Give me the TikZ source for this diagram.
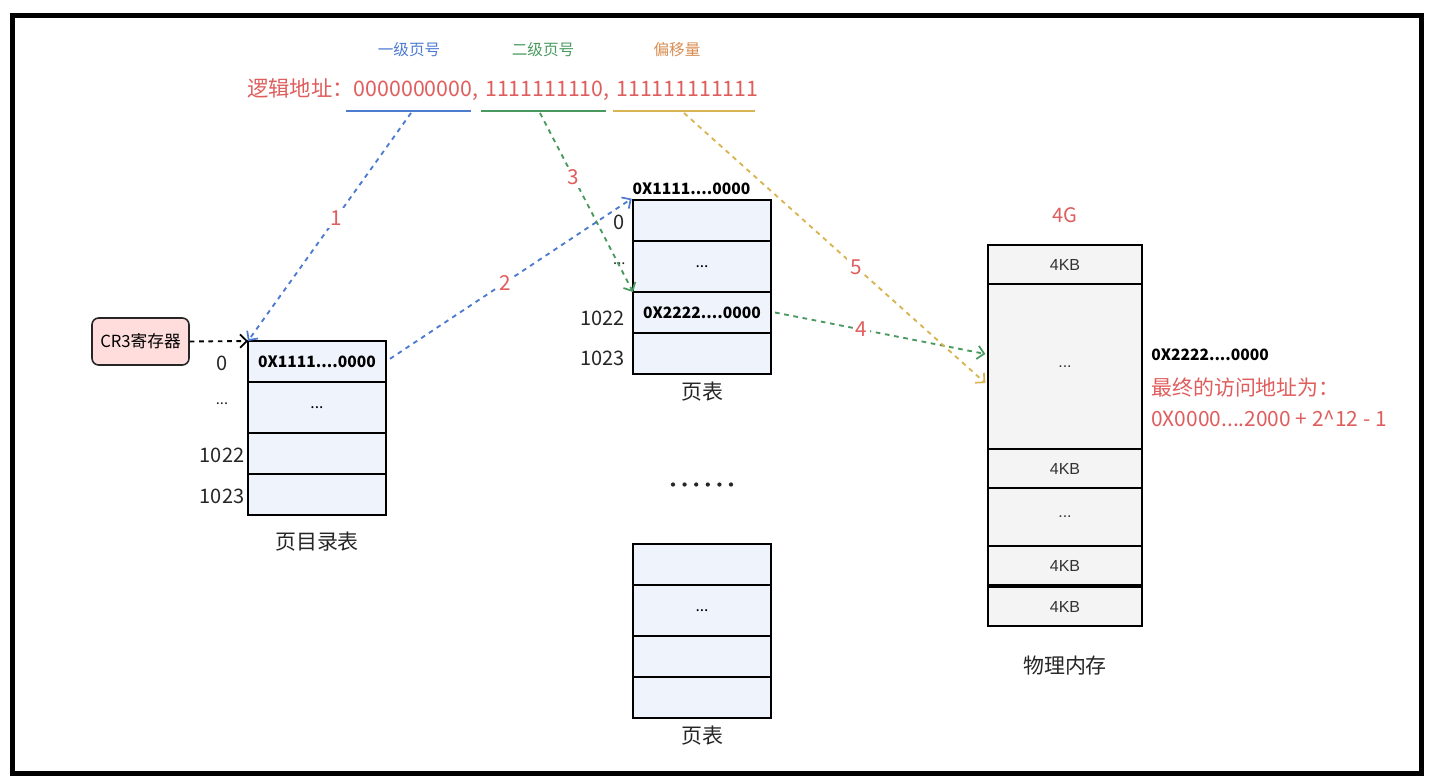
\documentclass[tikz,border=0pt]{standalone}
\usepackage{fontspec}
\setmainfont{Noto Sans CJK SC}
\newfontfamily\arialf{Liberation Sans}
\usetikzlibrary{arrows.meta,calc}

\begin{document}
\begin{tikzpicture}[x=0.75pt,y=-0.75pt,
  cell/.style={draw=black, line width=1.5pt, inner sep=0pt, outer sep=0pt,
    minimum width=103.5pt, font=\fontsize{11.7}{14}\selectfont},
  dirCell/.style={cell, fill=cCell},
  memCell/.style={cell, fill=cMem, minimum width=115.5pt, text=black!80,
    font=\arialf\fontsize{12}{14}\selectfont},
  idx/.style={font=\fontsize{15}{17}\selectfont, text=black!85},
  caption/.style={font=\fontsize{15.7}{18}\selectfont, text=black!85},
  step lbl/.style={fill=white, text=cRed, inner sep=2pt,
    font=\fontsize{15.5}{17}\selectfont},
  dashArrow/.style={line width=1.4pt, dash pattern=on 3.5pt off 3.5pt,
    -{Straight Barb[length=5pt,width=10pt,line width=1.3pt]}}]

% --- colors ---
\definecolor{cBlue}  {HTML}{4D7BD0}
\definecolor{cGreen} {HTML}{4A9A60}
\definecolor{cYellow}{HTML}{D9B452}
\definecolor{cOrange}{HTML}{D98C50}
\definecolor{cRed}   {HTML}{DF5D5D}
\definecolor{cCell}  {HTML}{EEF3FC}
\definecolor{cMem}   {HTML}{F4F4F4}
\definecolor{cPink}  {HTML}{FFDDDD}

\useasboundingbox (0,0) rectangle (1437,782);
\draw[line width=3.75pt] (12.5,15.5) rectangle (1421.5,773);

% --- logical address ---
\node[text=cBlue,   font=\fontsize{11.7}{13}\selectfont] (lvl1) at (409,50) {一级页号};
\node[text=cGreen,  font=\fontsize{11.7}{13}\selectfont] (lvl2) at (543,50) {二级页号};
\node[text=cOrange, font=\fontsize{11.7}{13}\selectfont] (offs) at (677,50) {偏移量};
\node[text=cRed, anchor=base west, inner sep=0pt, font=\fontsize{16}{18}\selectfont]
  (addr) at (247,96) {逻辑地址：0000000000,\hspace{0.1em} 1111111110,\hspace{0.1em} 111111111111};

\draw[cBlue,   line width=1.5pt] (346,111) -- (471,111);
\draw[cGreen,  line width=1.5pt] (481,111) -- (606,111);
\draw[cYellow, line width=1.5pt] (613,111) -- (755,111);
\coordinate (uBlue)   at (411,113);
\coordinate (uGreen)  at (540,113);
\coordinate (uYellow) at (684,113);

% --- CR3 ---
\node[draw=black!85, line width=1.2pt, fill=cPink, rounded corners=5pt,
  minimum width=72.75pt, minimum height=35.25pt, inner sep=0pt,
  font=\fontsize{12.5}{14}\selectfont] (cr3) at (140.5,341.5) {CR3寄存器};

% --- page directory ---
\foreach \top/\bot/\txt [count=\i from 0] in
  {341/382/{\bfseries 0X1111....0000}, 382/433/{...}, 433/474/{}, 474/515/{}}{%
  \pgfmathsetmacro{\hh}{(\bot-\top)*0.75}
  \node[dirCell, minimum height=\hh pt] (pd\i) at (317,{(\top+\bot)/2}) {\txt};
}
\node[idx] (pdi0) at (222,363) {0};
\node[idx, font=\fontsize{11}{13}\selectfont] (pdi1) at (222,404) {...};
\node[idx] (pdi2) at (222,455) {1022};
\node[idx] (pdi3) at (222,496) {1023};
\node[caption] (pdcap) at (317,542) {页目录表};

% --- page table (first) ---
\foreach \top/\bot/\txt [count=\i from 0] in
  {200/241/{}, 241/292/{...}, 292/333/{\bfseries 0X2222....0000}, 333/374/{}}{%
  \pgfmathsetmacro{\hh}{(\bot-\top)*0.75}
  \node[dirCell, minimum height=\hh pt] (pt\i) at (702,{(\top+\bot)/2}) {\txt};
}
\node[font=\bfseries\fontsize{11.7}{13}\selectfont, anchor=south west, inner sep=1pt]
  (pthead) at (631,196) {0X1111....0000};
\node[idx, anchor=east, inner sep=1pt] (pti0) at (626,222) {0};
\node[idx, anchor=east, inner sep=1pt, font=\fontsize{11}{13}\selectfont] (pti1) at (627,264) {...};
\node[idx, anchor=east, inner sep=1pt] (pti2) at (626,318) {1022};
\node[idx, anchor=east, inner sep=1pt] (pti3) at (626,358) {1023};
\node[caption] (ptcap) at (702,392) {页表};

% --- more page tables ---
\foreach \k in {0,...,5}
  \fill[black!85] (673+\k*11.6,484.5) circle (1.6pt);

\foreach \top/\bot/\txt [count=\i from 0] in
  {544/585/{}, 585/636/{...}, 636/677/{}, 677/718/{}}{%
  \pgfmathsetmacro{\hh}{(\bot-\top)*0.75}
  \node[dirCell, minimum height=\hh pt] (pu\i) at (702,{(\top+\bot)/2}) {\txt};
}
\node[caption] (pucap) at (702,736) {页表};

% --- physical memory ---
\foreach \top/\bot/\txt [count=\i from 0] in
  {245/284/4KB, 284/449/{...}, 449/488/4KB, 488/546/{...}, 546/585/4KB, 587/626/4KB}{%
  \pgfmathsetmacro{\hh}{(\bot-\top)*0.75}
  \node[memCell, minimum height=\hh pt] (pm\i) at (1065,{(\top+\bot)/2}) {\txt};
}
\node[text=cRed, font=\fontsize{15}{17}\selectfont] (four) at (1065,215) {4G};
\node[caption] (pmcap) at (1065,666) {物理内存};

\node[anchor=west, inner sep=0pt, font=\bfseries\fontsize{11.7}{13}\selectfont]
  (phys) at (1151,355) {0X2222....0000};
\node[anchor=west, inner sep=0pt, text=cRed, font=\fontsize{15.7}{18}\selectfont]
  (fin1) at (1151,388) {最终的访问地址为：};
\node[anchor=west, inner sep=0pt, text=cRed, font=\fontsize{15.7}{18}\selectfont]
  (fin2) at (1151,419) {0X0000....2000 + 2\^{}12 - 1};

% --- connectors ---
\draw[dashArrow, black] (cr3.east) -- (pd0.north west);
\draw[dashArrow, cBlue] (uBlue) -- node[step lbl, pos=0.46] {1} (pd0.north west);
\draw[dashArrow, cBlue] ([xshift=3pt,yshift=2pt]pd0.east)
  -- node[step lbl, pos=0.475] {2} ([xshift=-1pt,yshift=1pt]pt0.north west);
\draw[dashArrow, cGreen] (uGreen) -- node[step lbl, pos=0.36] {3} (pt2.north west);
\draw[dashArrow, cGreen] ([xshift=3pt]pt2.east)
  -- node[step lbl, pos=0.41] {4} ([xshift=-2pt,yshift=9.4pt]pm1.west);
\draw[dashArrow, cYellow] (uYellow)
  -- node[step lbl, pos=0.57] {5} ([xshift=-2pt,yshift=-12.4pt]pm1.west);

\end{tikzpicture}
\end{document}
